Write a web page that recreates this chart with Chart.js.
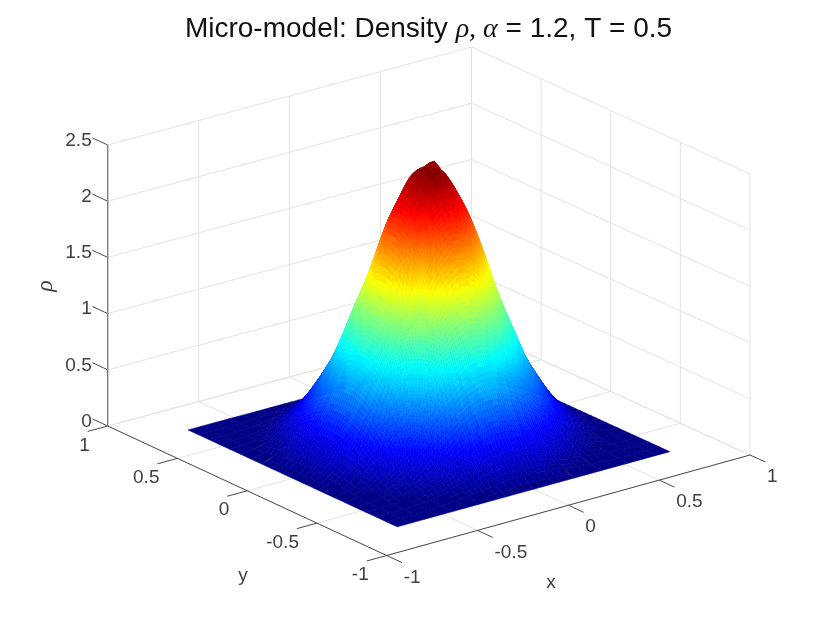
<!DOCTYPE html>
<html>
<head>
<meta charset="utf-8">
<title>Micro-model density</title>
<script src="https://cdn.jsdelivr.net/npm/chart.js@4"></script>
<style>
  html, body { margin: 0; padding: 0; background: #fff; }
  canvas { display: block; }
</style>
</head>
<body>
<canvas id="myChart" width="830" height="624"></canvas>
<script>
// grid of the surface, x and y both run over these
const gridCoords = [-0.75,-0.675,-0.6,-0.525,-0.45,-0.375,-0.3,-0.225,-0.15,-0.075,0,0.075,0.15,0.225,0.3,0.375,0.45,0.525,0.6,0.675,0.75];

// density, one row per y (from y=-0.75 up to y=0.75)
const rho = [
  [0,0,0,0,0,0,0,0,0,0,0,0,0,0,0,0,0,0,0,0,0],
  [0,0,0,.004,.008,.014,.028,.042,.062,.072,.078,.07,.06,.04,.024,.012,.006,0,0,0,0],
  [0,0,0,.008,.022,.042,.085,.13,.175,.195,.205,.19,.17,.125,.08,.04,.02,.008,0,0,0],
  [0,0,.004,.02,.065,.125,.195,.265,.335,.375,.385,.37,.33,.26,.19,.12,.06,.02,.008,0,0],
  [0,.004,.02,.065,.135,.235,.345,.455,.545,.605,.625,.60,.54,.45,.34,.23,.13,.06,.02,.006,0],
  [0,.012,.042,.125,.235,.375,.525,.665,.805,.895,.925,.89,.80,.66,.52,.37,.23,.12,.04,.012,0],
  [0,.025,.08,.19,.345,.525,.715,.925,1.105,1.225,1.265,1.22,1.10,.92,.71,.52,.34,.19,.08,.025,0],
  [0,.04,.125,.26,.455,.665,.925,1.175,1.425,1.60,1.68,1.60,1.42,1.17,.95,.66,.45,.26,.125,.04,0],
  [0,.06,.17,.33,.545,.805,1.105,1.425,1.76,1.98,2.08,1.97,1.73,1.46,1.13,.80,.54,.33,.17,.06,0],
  [0,.07,.19,.37,.60,.89,1.225,1.60,1.99,2.25,2.31,2.24,2.03,1.70,1.26,.89,.60,.37,.19,.07,0],
  [0,.075,.20,.38,.62,.92,1.26,1.68,2.08,2.30,2.40,2.37,2.12,1.74,1.33,.92,.62,.38,.20,.075,0],
  [0,.07,.19,.37,.60,.89,1.22,1.66,2.03,2.22,2.37,2.33,2.22,1.60,1.22,.89,.60,.37,.19,.07,0],
  [0,.06,.17,.33,.54,.80,1.16,1.45,1.78,2.02,2.22,2.30,2.29,1.70,1.10,.80,.54,.33,.17,.06,0],
  [0,.04,.125,.26,.45,.68,.95,1.22,1.42,1.60,1.80,1.85,1.85,1.45,.92,.66,.45,.26,.125,.04,0],
  [0,.025,.08,.19,.34,.52,.71,.92,1.10,1.22,1.35,1.38,1.35,1.05,.71,.52,.34,.19,.08,.025,0],
  [0,.012,.04,.12,.23,.37,.52,.66,.80,.89,.92,.89,.80,.66,.52,.37,.23,.12,.04,.012,0],
  [0,.006,.02,.06,.13,.23,.34,.45,.54,.60,.62,.60,.54,.45,.34,.23,.13,.06,.02,.006,0],
  [0,0,.008,.02,.06,.12,.19,.26,.33,.37,.38,.37,.33,.26,.19,.12,.06,.02,.008,0,0],
  [0,0,0,.008,.02,.04,.08,.125,.17,.19,.20,.19,.17,.125,.08,.04,.02,.008,0,0,0],
  [0,0,0,0,.006,.012,.025,.04,.06,.07,.075,.07,.06,.04,.025,.012,.006,0,0,0,0],
  [0,0,0,0,0,0,0,0,0,0,0,0,0,0,0,0,0,0,0,0,0]
];

const xTicks = [-1, -0.5, 0, 0.5, 1];
const yTicks = [-1, -0.5, 0, 0.5, 1];
const zTicks = [0, 0.5, 1, 1.5, 2, 2.5];
const xTickLabels = ['-1', '-0.5', '0', '0.5', '1'];
const yTickLabels = ['-1', '-0.5', '0', '0.5', '1'];
const zTickLabels = ['0', '0.5', '1', '1.5', '2', '2.5'];

// view: where the four floor corners of the box land, and pixels per unit of rho
const cornerF = [386.7, 555.5];
const cornerR = [750, 455];
const cornerL = [107.7, 426];
const cornerB = [471.5, 328];
const zPixels = 112.4;

function project(x, y, z) {
  const u = (x + 1) / 2, v = (y + 1) / 2;
  const px = (1-u)*(1-v)*cornerF[0] + u*(1-v)*cornerR[0] + (1-u)*v*cornerL[0] + u*v*cornerB[0];
  const py = (1-u)*(1-v)*cornerF[1] + u*(1-v)*cornerR[1] + (1-u)*v*cornerL[1] + u*v*cornerB[1];
  return { x: px, y: py - z * zPixels };
}

// matlab jet with 64 steps
function jet(value) {
  const t = (Math.min(63, Math.floor(value * 64)) + 0.5) / 64;
  const ch = (c) => Math.round(255 * Math.max(0, Math.min(1, 1.5 - Math.abs(4 * t - c))));
  return `rgb(${ch(3)},${ch(2)},${ch(1)})`;
}

const rhoMax = Math.max(...rho.map((row) => Math.max(...row)));
const last = gridCoords.length - 1;
const datasets = [];

// catmull-rom weights, used only to shade inside a cell without kinks at its edges
function weights(t) {
  return [(-t*t*t + 2*t*t - t) / 2, (3*t*t*t - 5*t*t + 2) / 2, (-3*t*t*t + 4*t*t + t) / 2, (t*t*t - t*t) / 2];
}

function shadeAt(i, j, s, t) {
  const ws = weights(s), wt = weights(t);
  let out = 0;
  for (let b = 0; b < 4; b++) {
    for (let a = 0; a < 4; a++) {
      const jj = Math.max(0, Math.min(last, j + b - 1));
      const ii = Math.max(0, Math.min(last, i + a - 1));
      out += ws[a] * wt[b] * rho[jj][ii];
    }
  }
  return Math.max(0, out);
}

// surface, nearest cells first because Chart.js paints the first dataset last
const cells = [];
for (let j = 0; j < last; j++) {
  for (let i = 0; i < last; i++) {
    cells.push({ i, j, depth: 50 * gridCoords[i] + 65 * gridCoords[j] });
  }
}
cells.sort((a, b) => a.depth - b.depth);

cells.forEach(({ i, j }) => {
  const z00 = rho[j][i], z10 = rho[j][i+1], z01 = rho[j+1][i], z11 = rho[j+1][i+1];
  const range = Math.max(z00, z10, z01, z11) - Math.min(z00, z10, z01, z11);
  const n = Math.max(1, Math.min(8, Math.ceil(range / 0.05)));
  const x0 = gridCoords[i], x1 = gridCoords[i+1], y0 = gridCoords[j], y1 = gridCoords[j+1];
  const at = (a, b) => {
    const s = a / n, t = b / n;
    return { x: x0 + (x1-x0)*s, y: y0 + (y1-y0)*t, z: shadeAt(i, j, s, t) };
  };
  for (let b = 0; b < n; b++) {
    for (let a = 0; a < n; a++) {
      const c = [at(a,b), at(a+1,b), at(a+1,b+1), at(a,b+1)];
      const mean = (c[0].z + c[1].z + c[2].z + c[3].z) / 4;
      const col = jet(mean / rhoMax);
      const pts = c.map((p) => project(p.x, p.y, p.z));
      pts.push(pts[0]);
      datasets.push({ data: pts, fill: 'shape', backgroundColor: col, borderColor: col, borderWidth: 0.6 });
    }
  }
});

function addLine(a, b, color, width) {
  datasets.push({ data: [a, b], fill: false, borderColor: color, borderWidth: width });
}

// axis lines and ticks
const axisDark = '#4a4a4a';
addLine(project(-1, 1, 0), project(-1, 1, 2.5), '#808080', 1.4);
addLine(project(-1, 1, 0), project(-1, -1, 0), axisDark, 1);
addLine(project(-1, -1, 0), project(1, -1, 0), axisDark, 1);
zTicks.forEach((z) => addLine(project(-1, 1, z), project(-1, 1.11, z), axisDark, 1));
yTicks.forEach((y) => addLine(project(-1, y, 0), project(-1.11, y, 0), axisDark, 1));
xTicks.forEach((x) => addLine(project(x, -1, 0), project(x, -1.11, 0), axisDark, 1));

// grid on the floor and the two back walls
const gridColor = '#e3e3e3';
xTicks.forEach((x) => {
  addLine(project(x, -1, 0), project(x, 1, 0), gridColor, 1);
  addLine(project(x, 1, 0), project(x, 1, 2.5), gridColor, 1);
});
yTicks.forEach((y) => {
  addLine(project(-1, y, 0), project(1, y, 0), gridColor, 1);
  addLine(project(1, y, 0), project(1, y, 2.5), gridColor, 1);
});
zTicks.forEach((z) => {
  addLine(project(-1, 1, z), project(1, 1, z), gridColor, 1);
  addLine(project(1, 1, z), project(1, -1, z), gridColor, 1);
});

const labelFont = '19px "Liberation Sans"';
const labelColor = '#404040';

const textPlugin = {
  id: 'axisText',
  afterDraw(chart) {
    const ctx = chart.ctx;
    const sx = chart.scales.x, sy = chart.scales.y;
    const put = (txt, p, dx, dy, align) => {
      ctx.textAlign = align;
      ctx.fillText(txt, sx.getPixelForValue(p.x) + dx, sy.getPixelForValue(p.y) + dy);
    };
    ctx.save();
    ctx.textBaseline = 'middle';
    ctx.font = labelFont;
    ctx.fillStyle = labelColor;
    zTicks.forEach((z, k) => put(zTickLabels[k], project(-1, 1, z), -16, -4.5, 'right'));
    yTicks.forEach((y, k) => put(yTickLabels[k], project(-1, y, 0), -18, 19.5, 'right'));
    xTicks.forEach((x, k) => put(xTickLabels[k], project(x, -1, 0), 17, 22, 'left'));
    ctx.textAlign = 'center';
    ctx.fillText('x', 551, 583);
    ctx.fillText('y', 243, 576);
    // rotated rho label
    ctx.save();
    ctx.translate(46, 286);
    ctx.rotate(-Math.PI / 2);
    ctx.font = 'italic 24px "Liberation Serif"';
    ctx.fillText('ρ', 0, 0);
    ctx.restore();
    // title with the math letters in a serif face
    const titleRuns = [
      ['Micro-model: Density ', '28px "Liberation Sans"'],
      ['ρ, ', 'italic 28px "Liberation Serif"'],
      ['α', 'italic 28px "Liberation Serif"'],
      [' = 1.2, T = 0.5', '28px "Liberation Sans"']
    ];
    ctx.textBaseline = 'alphabetic';
    ctx.textAlign = 'left';
    ctx.fillStyle = '#111';
    let total = 0;
    titleRuns.forEach(([t, f]) => { ctx.font = f; total += ctx.measureText(t).width; });
    let tx = 428.5 - total / 2;
    titleRuns.forEach(([t, f]) => {
      ctx.font = f;
      ctx.fillText(t, tx, 37);
      tx += ctx.measureText(t).width;
    });
    ctx.restore();
  }
};

new Chart(document.getElementById('myChart').getContext('2d'), {
  type: 'scatter',
  data: { datasets },
  plugins: [textPlugin],
  options: {
    responsive: false,
    devicePixelRatio: 1,
    animation: false,
    parsing: false,
    normalized: true,
    events: [],
    layout: { padding: 0 },
    showLine: true,
    elements: { point: { radius: 0 }, line: { tension: 0 } },
    plugins: { legend: { display: false }, tooltip: { enabled: false }, title: { display: false } },
    scales: {
      x: { type: 'linear', min: 0, max: 830, display: false },
      y: { type: 'linear', min: 0, max: 624, reverse: true, display: false }
    }
  }
});
</script>
</body>
</html>
